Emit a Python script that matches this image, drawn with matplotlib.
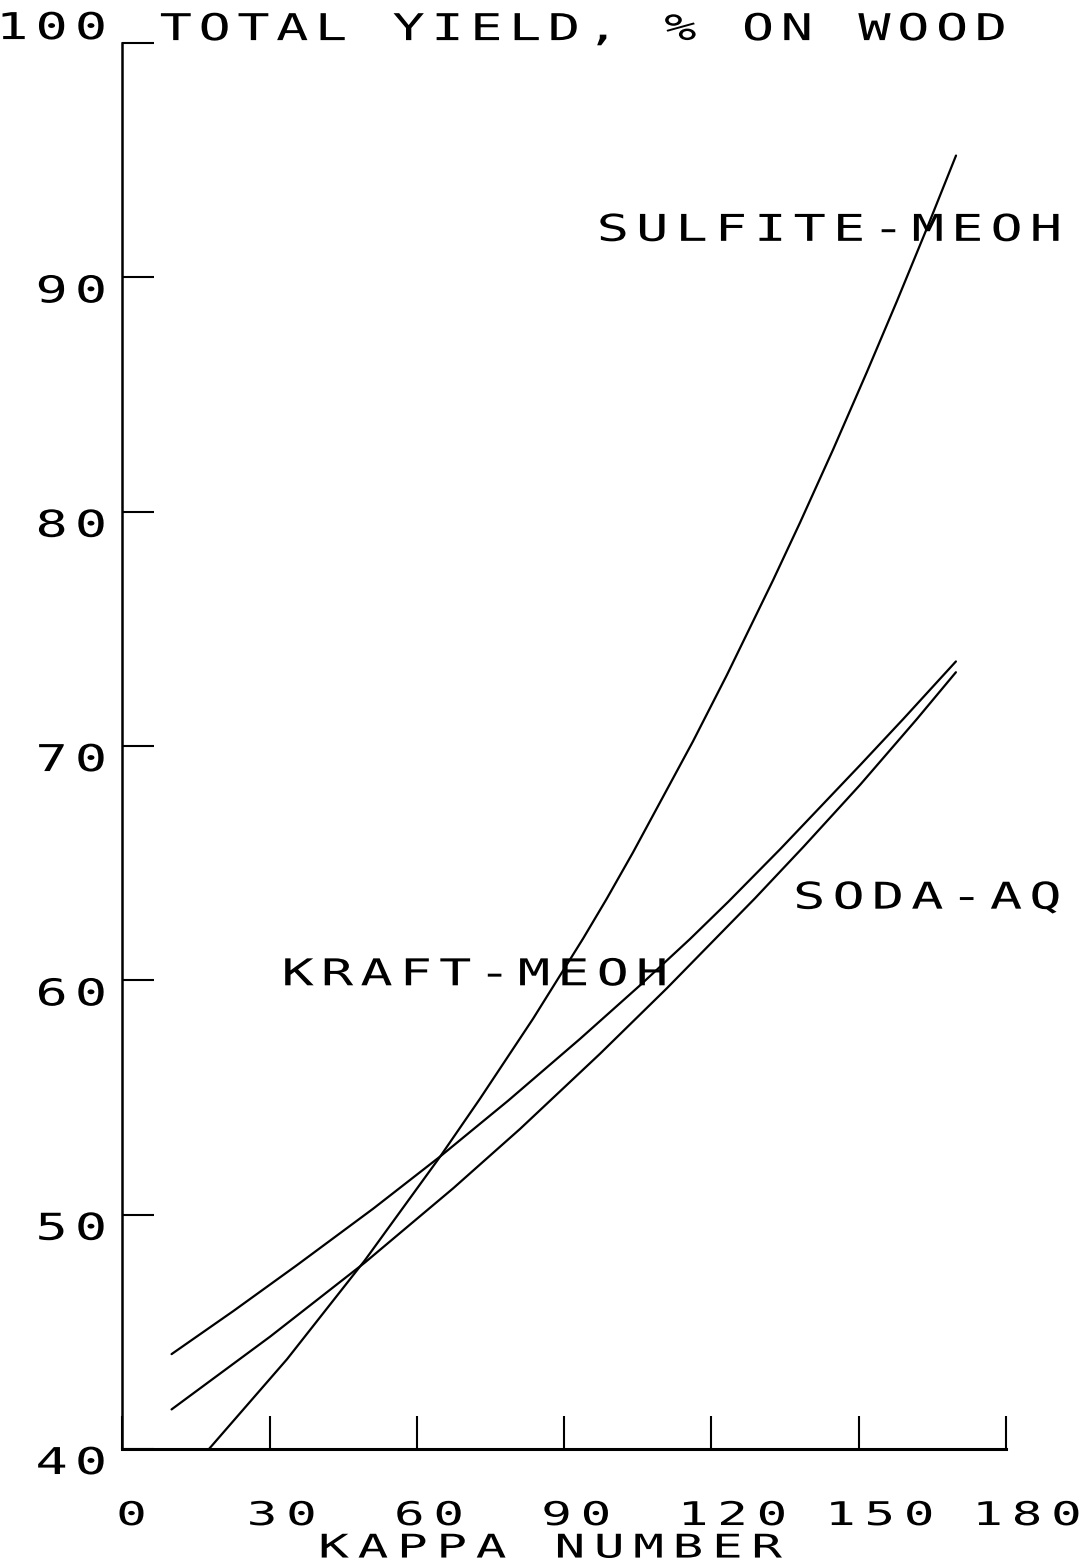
import numpy as np
import matplotlib
matplotlib.use("Agg")
import matplotlib.pyplot as plt
from matplotlib import patheffects
from matplotlib.path import Path
from matplotlib.transforms import Affine2D

# axis ticks
kappa_ticks = [0, 30, 60, 90, 120, 150, 180]
kappa_labels = ["0", "30", "60", "90", "120", "150", "180"]
yield_ticks = [40, 50, 60, 70, 80, 90, 100]
yield_labels = ["40", "50", "60", "70", "80", "90", "100"]

# curves (kappa number, total yield %)
kraft_kappa = [10.0, 22.6, 35.5, 51.1, 64.7, 78.6, 93.2, 105.4, 115.6, 123.4,
               134.0, 150.3, 159.1, 169.8]
kraft_yield = [44.05, 45.89, 47.84, 50.26, 52.48, 54.87, 57.5, 59.78, 61.76, 63.35,
               65.6, 69.19, 71.16, 73.61]

soda_kappa = [10.0, 30.1, 49.4, 67.4, 81.0, 97.3, 110.9, 128.9, 138.7, 150.3, 161.8, 169.8]
soda_yield = [41.69, 44.8, 47.96, 51.13, 53.66, 56.87, 59.66, 63.51, 65.69, 68.35,
              71.14, 73.15]

sulfite_kappa = [17.62, 33.51, 49.41, 64.69, 72.84, 83.64, 93.83, 98.65, 104.01,
                 116.23, 123.16, 132.53, 138.03, 144.75, 151.68, 157.79, 163.9, 169.82]
sulfite_yield = [40.0, 43.83, 48.06, 52.47, 54.95, 58.36, 61.78, 63.48, 65.46,
                 70.2, 73.04, 77.07, 79.53, 82.64, 85.97, 88.99, 92.1, 95.2]

plt.rcParams['font.family'] = ['DejaVu Sans Mono']
FONT_PT = 26.6     # curve labels, title, y ticks
SMALL_PT = 23.5    # x ticks and x label (squeezed a bit at the bottom edge)
CELL = 60.2        # advance of DejaVu Sans Mono in text-path units (100 per em)


class PlotterLettering(patheffects.AbstractPathEffect):
    """Spread the monospace glyphs apart like the old pen-plotter lettering."""

    def __init__(self, spread=1.77, widen=1.45, anchor="left", dx=0.0, dy=0.0):
        super().__init__()
        self.spread = spread
        self.widen = widen
        self.anchor = anchor
        self.dx = dx
        self.dy = dy

    def draw_path(self, renderer, gc, tpath, affine, rgbFace=None):
        codes = tpath.codes
        if codes is None or len(tpath.vertices) == 0:
            renderer.draw_path(gc, tpath, affine, rgbFace)
            return
        verts = tpath.vertices.copy()
        starts = np.flatnonzero(codes == Path.MOVETO)
        ends = np.append(starts[1:], len(codes))
        new_cell = CELL * self.spread
        ncell = 0
        for s, e in zip(starts, ends):
            real = codes[s:e] != Path.CLOSEPOLY
            xs = verts[s:e][real, 0]
            if len(xs) == 0:
                continue
            i = int(((xs.min() + xs.max()) / 2) // CELL)
            ncell = max(ncell, i + 1)
            verts[s:e, 0] = (verts[s:e, 0] - (i + 0.5) * CELL) * self.widen + (i + 0.5) * new_cell
        grow = ncell * (new_cell - CELL)
        verts[:, 0] += {"left": 0.0, "center": -grow / 2, "right": -grow}[self.anchor]
        renderer.draw_path(gc, Path(verts, codes),
                           affine + Affine2D().translate(self.dx, self.dy), rgbFace)


fig = plt.figure(figsize=(10.81, 15.66), dpi=100)
ax = fig.add_axes([0.1133, 0.0747, 0.8173, 0.8978])

for k, y in [(kraft_kappa, kraft_yield), (soda_kappa, soda_yield),
             (sulfite_kappa, sulfite_yield)]:
    ax.plot(k, y, color="black", lw=1.6, solid_capstyle="round")

ax.set_xlim(0, 180)
ax.set_ylim(40, 100)
ax.spines["top"].set_visible(False)
ax.spines["right"].set_visible(False)
ax.spines["left"].set_linewidth(1.8)
ax.spines["bottom"].set_linewidth(2.2)

ax.set_xticks(kappa_ticks)
ax.set_xticklabels(kappa_labels)
ax.set_yticks(yield_ticks)
ax.set_yticklabels(yield_labels)
ax.tick_params(direction="in", width=1.5, colors="black")
ax.tick_params(axis="x", length=24, pad=36, labelsize=SMALL_PT)
ax.tick_params(axis="y", length=23, pad=8.5, labelsize=FONT_PT)

small_spread = 1.77 * FONT_PT / SMALL_PT
small_widen = 1.45 * FONT_PT / SMALL_PT * 0.95
shift = {1: 9, 2: 12, 3: 21}
for lab in ax.get_xticklabels():
    lab.set_path_effects([PlotterLettering(small_spread, small_widen, anchor="center",
                                           dx=shift[len(lab.get_text())])])
for lab in ax.get_yticklabels():
    lab.set_path_effects([PlotterLettering(anchor="right", dy=4)])
    lab.set_verticalalignment("baseline" if lab.get_text() == "100" else "top")

ax.set_xlabel("KAPPA NUMBER", fontsize=SMALL_PT, va="baseline",
              path_effects=[PlotterLettering(small_spread, small_widen, anchor="center")])
ax.xaxis.set_label_coords(0.4839, -0.0772)

ax.text(0.0384, 1.0021, "TOTAL YIELD, % ON WOOD", transform=ax.transAxes,
        ha="left", va="baseline", fontsize=FONT_PT,
        path_effects=[PlotterLettering(spread=1.745)], clip_on=False)

# curve labels
ax.text(95.9, 91.56, "SULFITE-MEOH", ha="left", va="baseline", fontsize=FONT_PT,
        path_effects=[PlotterLettering()], clip_on=False)
ax.text(135.9, 63.06, "SODA-AQ", ha="left", va="baseline", fontsize=FONT_PT,
        path_effects=[PlotterLettering()], clip_on=False)
ax.text(31.7, 59.79, "KRAFT-MEOH", ha="left", va="baseline", fontsize=FONT_PT,
        path_effects=[PlotterLettering()])

fig.savefig("out.png", dpi=100)
